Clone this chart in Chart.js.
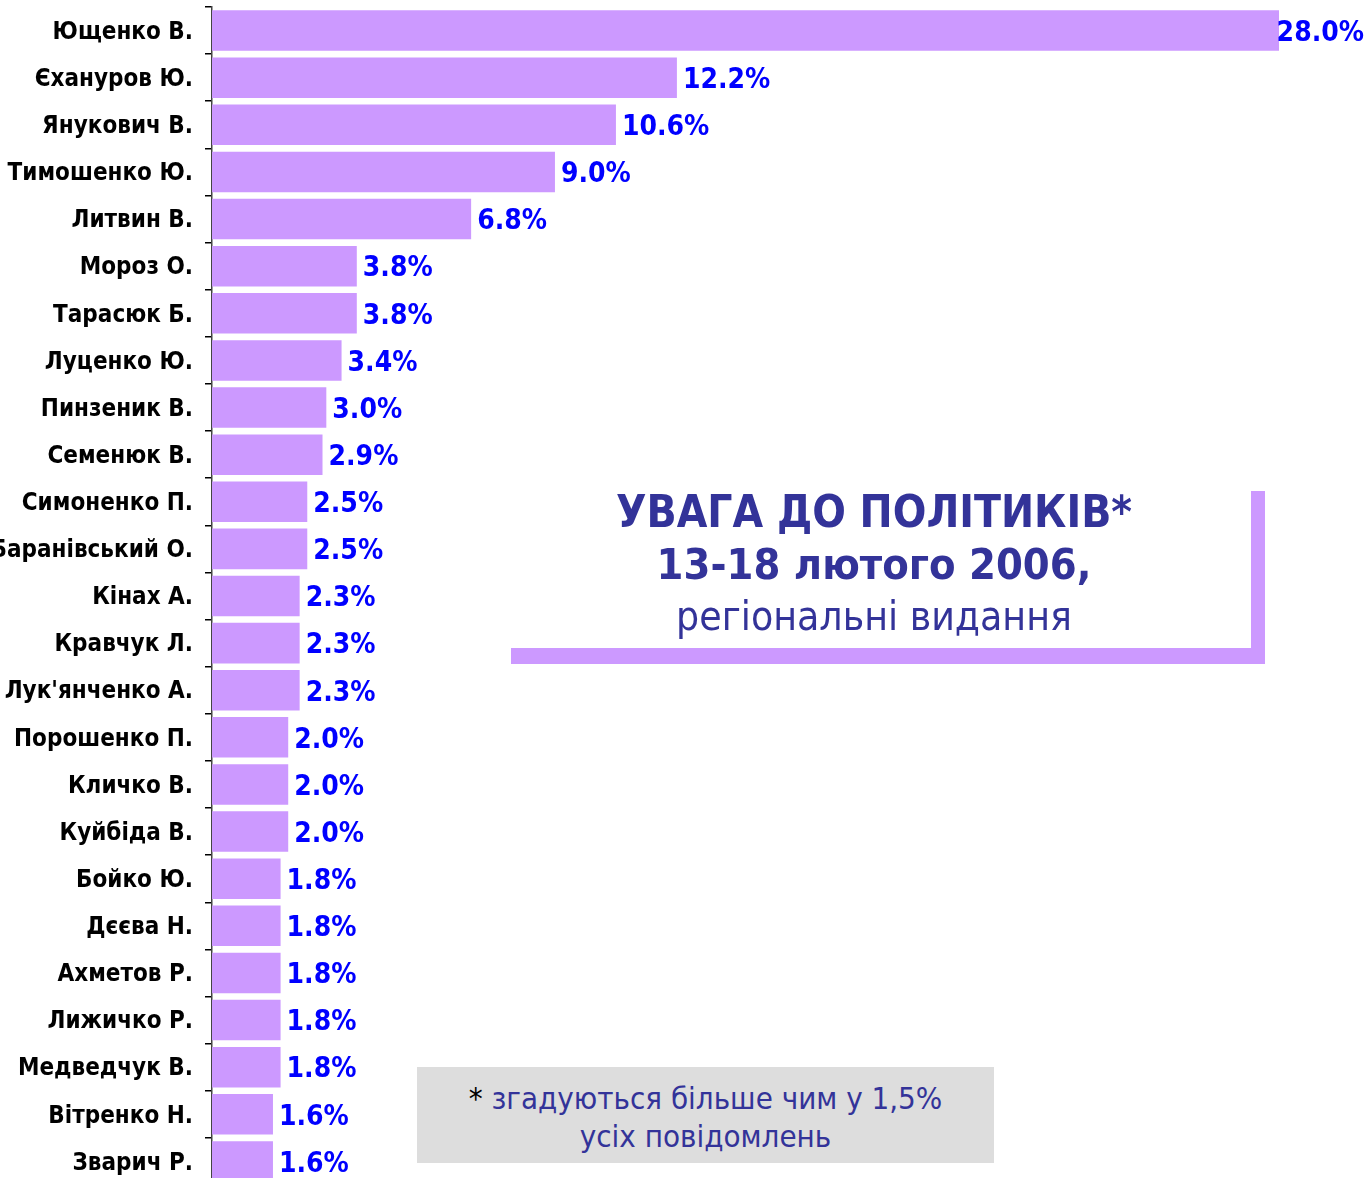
<!DOCTYPE html>
<html>
<head>
<meta charset="utf-8">
<script src="https://cdn.jsdelivr.net/npm/chart.js@4/dist/chart.umd.min.js"></script>
<style>
  html, body { margin: 0; padding: 0; background: #fff; overflow: hidden; }
  #wrap { position: relative; width: 1367px; height: 1178px; overflow: hidden; }
  #c { position: absolute; left: 0; top: 0; }
  .titlebox {
    position: absolute; left: 497px; top: 475px; width: 754px; height: 173px;
    background: #fff; box-shadow: 14px 16px 0 #CC99FF;
    text-align: center; color: #333399;
    font-family: "DejaVu Sans Condensed", "DejaVu Sans", sans-serif;
  }
  .t1 { position: absolute; left: 0; right: 0; font-weight: bold; font-size: 44px; line-height: 40px; }
  .t2 { position: absolute; left: 0; right: 0; font-weight: bold; font-size: 43px; line-height: 40px; }
  .t3 { position: absolute; left: 0; right: 0; font-weight: normal; font-size: 40.5px; line-height: 40px; }
  .note {
    position: absolute; left: 417px; top: 1067px; width: 577px; height: 96px;
    background: #DDDDDD; color: #333399; text-align: center;
    font-family: "DejaVu Sans Condensed", "DejaVu Sans", sans-serif; font-size: 31px;
  }
  .note div { position: absolute; left: 0; right: 0; line-height: 34px; }
</style>
</head>
<body>
<div id="wrap">
  <canvas id="c" width="1367" height="1192"></canvas>
  <div class="titlebox">
    <div class="t1" style="top:17px">УВАГА ДО ПОЛІТИКІВ*</div>
    <div class="t2" style="top:69px">13-18 лютого 2006,</div>
    <div class="t3" style="top:121px">регіональні видання</div>
  </div>
  <div class="note">
    <div style="top:14px"><span style="color:#000">*</span> згадуються більше чим у 1,5%</div>
    <div style="top:52px">усіх повідомлень</div>
  </div>
</div>
<script>
const categories = [
  "Ющенко В.", "Єхануров Ю.", "Янукович В.", "Тимошенко Ю.", "Литвин В.",
  "Мороз О.", "Тарасюк Б.", "Луценко Ю.", "Пинзеник В.", "Семенюк В.",
  "Симоненко П.", "Баранівський О.", "Кінах А.", "Кравчук Л.", "Лук'янченко А.",
  "Порошенко П.", "Кличко В.", "Куйбіда В.", "Бойко Ю.", "Дєєва Н.",
  "Ахметов Р.", "Лижичко Р.", "Медведчук В.", "Вітренко Н.", "Зварич Р."
];
const values = [
  28.0, 12.2, 10.6, 9.0, 6.8,
  3.8, 3.8, 3.4, 3.0, 2.9,
  2.5, 2.5, 2.3, 2.3, 2.3,
  2.0, 2.0, 2.0, 1.8, 1.8,
  1.8, 1.8, 1.8, 1.6, 1.6
];
const xMin = 0, xMax = 28;

const FONT = '"DejaVu Sans Condensed", "DejaVu Sans", sans-serif';

const valueLabels = {
  id: 'valueLabels',
  afterDatasetsDraw(chart) {
    const ctx = chart.ctx;
    const meta = chart.getDatasetMeta(0);
    ctx.save();
    ctx.font = 'bold 28px ' + FONT;
    ctx.fillStyle = '#0000FF';
    ctx.textAlign = 'left';
    ctx.textBaseline = 'middle';
    meta.data.forEach((el, i) => {
      const txt = values[i].toFixed(1) + '%';
      const w = ctx.measureText(txt).width;
      const x = Math.min(el.x + 6, chart.width - 3 - w);
      ctx.fillText(txt, x, el.y + 3);
    });
    ctx.restore();
  }
};

new Chart(document.getElementById('c'), {
  type: 'bar',
  data: {
    labels: categories,
    datasets: [{
      data: values,
      backgroundColor: '#CC99FF',
      borderWidth: 0,
      barPercentage: 0.86,
      categoryPercentage: 1.0
    }]
  },
  options: {
    indexAxis: 'y',
    responsive: false,
    animation: false,
    layout: { padding: { top: 7, bottom: 7, left: 0, right: 88 } },
    plugins: { legend: { display: false }, tooltip: { enabled: false }, title: { display: false } },
    scales: {
      x: { display: false, min: xMin, max: xMax },
      y: {
        afterFit(scale) { scale.width = 212; scale.paddingTop = 0; scale.paddingBottom = 0; },
        border: { display: true, color: '#444', width: 1.5 },
        grid: { offset: true, drawOnChartArea: false, drawTicks: true, tickLength: 7, color: '#000', lineWidth: 1.5 },
        ticks: {
          color: '#000',
          padding: 12,
          labelOffset: 2,
          autoSkip: false,
          font: { family: FONT, weight: 'bold', size: 24 }
        }
      }
    }
  },
  plugins: [valueLabels]
});
</script>
</body>
</html>
